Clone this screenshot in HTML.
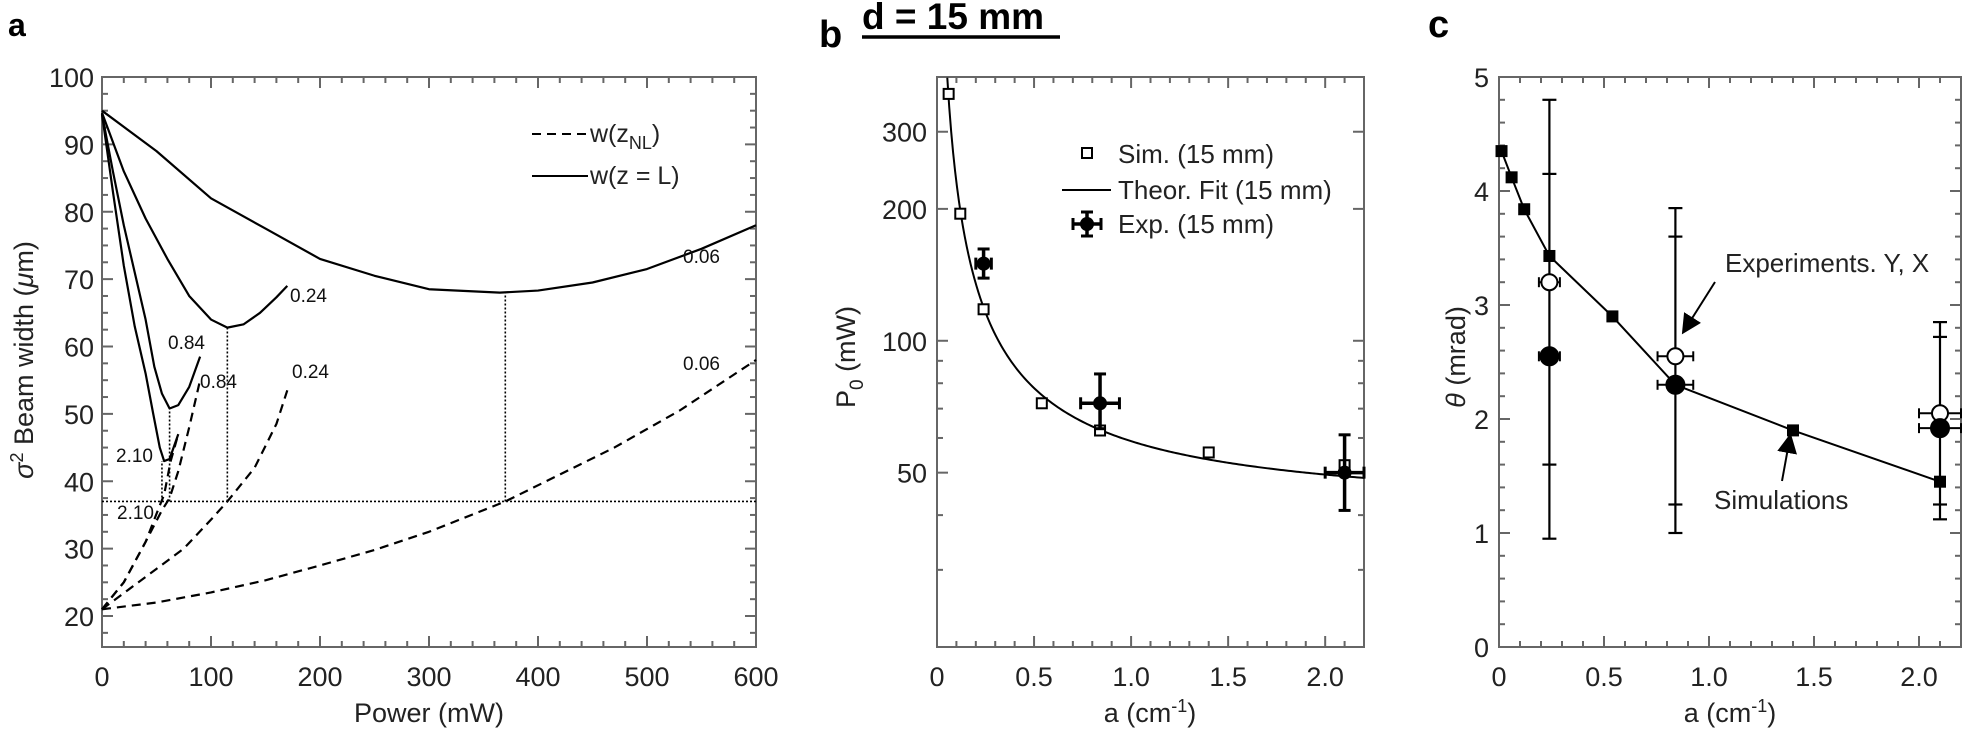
<!DOCTYPE html>
<html><head><meta charset="utf-8">
<style>
html,body{margin:0;padding:0;background:#fff;width:1963px;height:736px;overflow:hidden}
svg{display:block;font-family:"Liberation Sans",Arial,sans-serif}
</style></head>
<body>
<svg id="s" width="1963" height="736" viewBox="0 0 1963 736" xmlns="http://www.w3.org/2000/svg"></svg>
<script>
const S=document.getElementById('s');const NS='http://www.w3.org/2000/svg';
function el(t,a,txt){const e=document.createElementNS(NS,t);for(const k in a)e.setAttribute(k,a[k]);if(txt!==undefined)e.textContent=txt;S.appendChild(e);return e;}
function line(x1,y1,x2,y2,st){return el('line',Object.assign({x1,y1,x2,y2,stroke:'#000','stroke-width':2},st||{}));}
function text(x,y,t,st){return el('text',Object.assign({x,y,'font-size':27,fill:'#222'},st||{}),t);}
function poly(pts,st){return el('polyline',Object.assign({points:pts.map(p=>p.join(',')).join(' '),fill:'none',stroke:'#000','stroke-width':2.2,'stroke-linejoin':'round'},st||{}));}
const T=77,B=647;
// ---------- Panel a ----------
const aL=102,aR=756;
const ax=p=>aL+p*(aR-aL)/600, ay=v=>T+(100-v)*(B-T)/84.6;
el('rect',{x:aL,y:T,width:aR-aL,height:B-T,fill:'none',stroke:'#666','stroke-width':2});
for(let p=0;p<=600;p+=20){const mj=p%100==0,l=mj?11:6;line(ax(p),B,ax(p),B-l,{stroke:'#666'});line(ax(p),T,ax(p),T+l,{stroke:'#666'});if(mj)text(ax(p),686,String(p),{'text-anchor':'middle'});}
for(let v=17.5;v<=100;v+=2.5){const mj=v%10==0,l=mj?11:6;line(aL,ay(v),aL+l,ay(v),{stroke:'#666'});line(aR,ay(v),aR-l,ay(v),{stroke:'#666'});if(mj)text(aL-8,ay(v)+10,String(v),{'text-anchor':'end'});}
text(429,722,'Power (mW)',{'text-anchor':'middle'});
el('text',{x:0,y:0,'font-size':27,fill:'#222','text-anchor':'middle',transform:'translate(33,360) rotate(-90)'}).innerHTML='<tspan font-style="italic">σ</tspan><tspan dy="-10" font-size="18">2</tspan><tspan dy="10"> Beam width (</tspan><tspan font-style="italic">μ</tspan>m)';
text(8,36,'a',{'font-size':32,'font-weight':'bold',fill:'#000'});
const M=(a)=>a.map(([p,v])=>[ax(p),ay(v)]);
const dash={'stroke-dasharray':'9,6'};
poly(M([[0,95],[50,89],[100,82],[150,77.5],[200,73],[250,70.5],[300,68.5],[365,68],[400,68.3],[450,69.5],[500,71.5],[550,74.5],[600,78]]));
poly(M([[0,94.7],[20,86],[40,79],[60,73],[80,67.5],[100,64],[115,62.8],[130,63.3],[145,65],[160,67.3],[170,69]]));
poly(M([[0,94.5],[10,86],[20,78],[30,71],[40,64],[48,57],[55,53],[62,50.8],[70,51.3],[80,54],[90,58.5]]));
poly(M([[0,94.5],[10,83],[20,72],[30,63],[40,56],[47,50],[53,45],[57,43],[62,43.3],[70,47]]));
poly(M([[0,21],[50,22],[100,23.5],[150,25.3],[200,27.5],[250,29.8],[300,32.5],[370,37],[420,41],[470,45],[530,50.5],[600,58]]),dash);
poly(M([[0,21],[25,24],[50,27],[75,30],[100,34.3],[115,37],[140,42],[160,48.5],[170,53.5]]),dash);
poly(M([[0,21],[20,25],[40,31],[55,35.7],[62,37.5],[70,41.5],[80,48],[90,55]]),dash);
poly(M([[0,21],[20,25],[40,31],[52,36],[57,38],[63,43],[70,47]]),dash);
const dot={'stroke-dasharray':'2,2','stroke-width':1.6};
line(aL,ay(37),aR,ay(37),dot);
line(ax(370),ay(37),ax(370),ay(68),dot);line(ax(115),ay(37),ax(115),ay(62.8),dot);
line(ax(62),ay(37),ax(62),ay(50.5),dot);line(ax(55),ay(37),ax(55),ay(43),dot);
const sm={'font-size':19,fill:'#111'};
text(683,263,'0.06',sm);text(683,370,'0.06',sm);text(290,302,'0.24',sm);text(292,378,'0.24',sm);
text(168,349,'0.84',sm);text(200,388,'0.84',sm);text(116,462,'2.10',sm);text(117,519,'2.10',sm);
line(532,134,588,134,{'stroke-dasharray':'9,6'});line(532,176,588,176);
el('text',{x:590,y:142,'font-size':25,fill:'#222'}).innerHTML='w(z<tspan dy="7" font-size="18">NL</tspan><tspan dy="-7">)</tspan>';
text(590,184,'w(z = L)',{'font-size':25});
// ---------- Panel b ----------
const bL=937,bR=1364;
const bx=a=>bL+a*(bR-bL)/2.2, by=v=>T+(Math.log10(400)-Math.log10(v))*(B-T)/Math.log10(20);
el('rect',{x:bL,y:T,width:bR-bL,height:B-T,fill:'none',stroke:'#666','stroke-width':2});
for(let i=0;i<=22;i++){const a=i/10,mj=i%5==0,l=mj?11:6;line(bx(a),B,bx(a),B-l,{stroke:'#666'});line(bx(a),T,bx(a),T+l,{stroke:'#666'});if(mj)text(bx(a),686,i==0?'0':a.toFixed(1),{'text-anchor':'middle'});}
[20,30,40,50,60,70,80,90,100,200,300,400].forEach(v=>{const mj=[50,100,200,300].includes(v),l=mj?11:6;line(bL,by(v),bL+l,by(v),{stroke:'#666'});line(bR,by(v),bR-l,by(v),{stroke:'#666'});if(mj)text(bL-10,by(v)+10,String(v),{'text-anchor':'end'});});
el('text',{x:0,y:0,'font-size':27,fill:'#222','text-anchor':'middle',transform:'translate(855,357) rotate(-90)'}).innerHTML='P<tspan dy="8" font-size="19">0</tspan><tspan dy="-8"> (mW)</tspan>';
el('text',{x:1150,y:722,'font-size':27,fill:'#222','text-anchor':'middle'}).innerHTML='a (cm<tspan dy="-10" font-size="18">-1</tspan><tspan dy="10">)</tspan>';
text(819,47,'b',{'font-size':38,'font-weight':'bold',fill:'#000'});
text(862,29,'d = 15 mm',{'font-size':37,'font-weight':'bold',fill:'#000'});
line(862,37,1060,37,{'stroke-width':3.5});
let fit=[];for(let a=0.053;a<=2.2;a+=0.01){fit.push([bx(a),by(40+19/a)]);}fit.push([bx(2.2),by(40+19/2.2)]);
poly(fit,{'stroke-width':2});
const sq=(x,y)=>el('rect',{x:x-5,y:y-5,width:10,height:10,fill:'#fff',stroke:'#000','stroke-width':2});
[[0.06,366],[0.12,195],[0.24,118],[0.54,72],[0.84,62.4],[1.4,55.6],[2.1,52]].forEach(([a,v])=>sq(bx(a),by(v)));
function expb(x,y,x1,x2,y1,y2){line(x1,y,x2,y,{'stroke-width':3.5});line(x,y1,x,y2,{'stroke-width':3.5});line(x1,y-6,x1,y+6,{'stroke-width':3});line(x2,y-6,x2,y+6,{'stroke-width':3});line(x-6,y1,x+6,y1,{'stroke-width':3});line(x-6,y2,x+6,y2,{'stroke-width':3});el('circle',{cx:x,cy:y,r:7,fill:'#000'});}
expb(bx(0.24),by(150),bx(0.2),bx(0.28),by(162),by(139));
expb(bx(0.84),by(72),bx(0.74),bx(0.94),by(84),by(63));
expb(bx(2.1),by(50),bx(2.0),bx(2.2),by(61),by(41));
sq(1087,153);text(1118,163,'Sim. (15 mm)',{'font-size':26});
line(1062,190,1111,190);text(1118,199,'Theor. Fit (15 mm)',{'font-size':26});
expb(1087,224,1073,1101,212,236);text(1118,233,'Exp. (15 mm)',{'font-size':26});
// ---------- Panel c ----------
const cL=1499,cR=1961;
const cx=a=>cL+a*(cR-cL)/2.2, cy=v=>B-v*(B-T)/5;
el('rect',{x:cL,y:T,width:cR-cL,height:B-T,fill:'none',stroke:'#666','stroke-width':2});
for(let i=0;i<=22;i++){const a=i/10,mj=i%5==0,l=mj?11:6;line(cx(a),B,cx(a),B-l,{stroke:'#666'});line(cx(a),T,cx(a),T+l,{stroke:'#666'});if(mj)text(cx(a),686,i==0?'0':a.toFixed(1),{'text-anchor':'middle'});}
for(let i=0;i<=25;i++){const v=i/5,mj=i%5==0,l=mj?11:6;line(cL,cy(v),cL+l,cy(v),{stroke:'#666'});line(cR,cy(v),cR-l,cy(v),{stroke:'#666'});if(mj)text(cL-10,cy(v)+10,String(v),{'text-anchor':'end'});}
el('text',{x:0,y:0,'font-size':27,fill:'#222','text-anchor':'middle',transform:'translate(1465,357) rotate(-90)'}).innerHTML='<tspan font-style="italic">θ</tspan> (mrad)';
el('text',{x:1730,y:722,'font-size':27,fill:'#222','text-anchor':'middle'}).innerHTML='a (cm<tspan dy="-10" font-size="18">-1</tspan><tspan dy="10">)</tspan>';
text(1428,37,'c',{'font-size':38,'font-weight':'bold',fill:'#000'});
const sim=[[0.012,4.35],[0.06,4.12],[0.12,3.84],[0.24,3.43],[0.54,2.9],[0.84,2.3],[1.4,1.9],[2.1,1.45]];
poly(sim.map(([a,v])=>[cx(a),cy(v)]),{'stroke-width':2});
function vbar(a,lo,hi,c1,c2){const x=cx(a);line(x,cy(lo),x,cy(hi),{'stroke-width':2.2});[lo,hi,c1,c2].forEach(v=>line(x-7,cy(v),x+7,cy(v),{'stroke-width':2.2}));}
vbar(0.24,0.95,4.8,1.6,4.15);vbar(0.84,1.0,3.85,1.25,3.6);vbar(2.1,1.12,2.85,1.25,2.72);
function hbar(a,v,d){line(cx(a-d),cy(v),cx(a+d),cy(v),{'stroke-width':2});line(cx(a-d),cy(v)-5,cx(a-d),cy(v)+5,{'stroke-width':2});line(cx(a+d),cy(v)-5,cx(a+d),cy(v)+5,{'stroke-width':2});}
[[0.24,3.2,0.05,0],[0.24,2.55,0.05,1],[0.84,2.55,0.085,0],[0.84,2.3,0.085,1],[2.1,2.05,0.1,0],[2.1,1.92,0.1,1]].forEach(([a,v,d,f])=>{hbar(a,v,d);el('circle',{cx:cx(a),cy:cy(v),r:f?9:8,fill:f?'#000':'#fff',stroke:'#000','stroke-width':2});});
sim.forEach(([a,v])=>el('rect',{x:cx(a)-6,y:cy(v)-6,width:12,height:12,fill:'#000'}));
text(1725,272,'Experiments. Y, X',{'font-size':26});
text(1714,509,'Simulations',{'font-size':26});
el('defs',{}).innerHTML='<marker id="ar" markerWidth="10" markerHeight="10" refX="8" refY="5" orient="auto"><path d="M0,0 L10,5 L0,10 z" fill="#000"/></marker>';
line(1715,282,1684,331,{'stroke-width':2,'marker-end':'url(#ar)'});
line(1782,481,1790,437,{'stroke-width':2,'marker-end':'url(#ar)'});
</script>
</body></html>
